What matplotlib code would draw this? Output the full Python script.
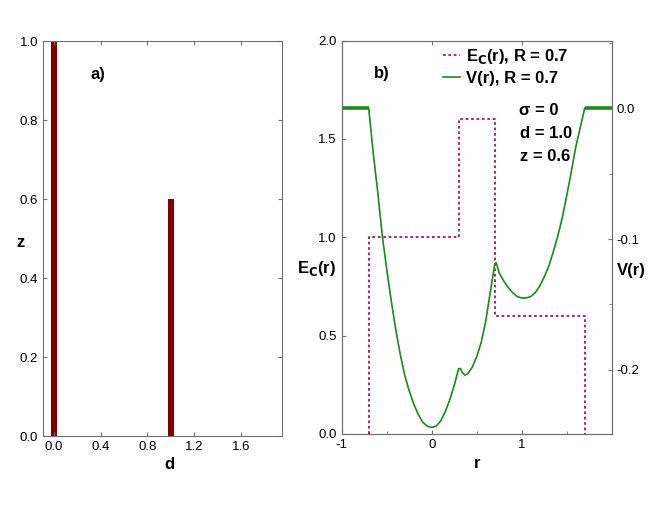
import numpy as np
import matplotlib.pyplot as plt
from matplotlib.ticker import MultipleLocator

plt.rcParams['font.family'] = ['Liberation Sans', 'DejaVu Sans']

# panel a): positions d and heights z of the two bars
bar_d = [0.0, 1.0]
bar_z = [1.0, 0.6]

# panel b): step function E_C(r)
ec_r = [-0.7, -0.7, 0.3, 0.3, 0.7, 0.7, 1.7, 1.7]
ec_val = [0.0, 1.0, 1.0, 1.6, 1.6, 0.6, 0.6, 0.0]

# panel b): potential V(r)
v_r = [-0.7, -0.675, -0.65, -0.625, -0.6, -0.55, -0.5, -0.45, -0.4, -0.35,
       -0.3, -0.25, -0.2, -0.15, -0.1, -0.05, 0.0, 0.05, 0.1, 0.15,
       0.2, 0.25, 0.28, 0.3, 0.32, 0.34, 0.37, 0.4, 0.45, 0.5,
       0.55, 0.6, 0.65, 0.68, 0.7, 0.715, 0.73, 0.75, 0.8, 0.85,
       0.9, 0.95, 1.0, 1.05, 1.1, 1.15, 1.2, 1.25, 1.3, 1.35,
       1.4, 1.45, 1.5, 1.55, 1.6, 1.65, 1.7]
v_val = [0.0, -0.017, -0.034, -0.049, -0.064, -0.097, -0.123, -0.147, -0.169, -0.188,
         -0.204, -0.216, -0.226, -0.234, -0.240, -0.243, -0.244, -0.243, -0.239, -0.232,
         -0.223, -0.212, -0.204, -0.199, -0.199, -0.202, -0.204, -0.203, -0.198, -0.190,
         -0.179, -0.163, -0.141, -0.128, -0.120, -0.118, -0.121, -0.126, -0.132, -0.137,
         -0.141, -0.144, -0.145, -0.145, -0.144, -0.141, -0.136, -0.129, -0.121, -0.110,
         -0.098, -0.084, -0.067, -0.049, -0.030, -0.015, 0.0]
flat_left = [-1.0, -0.7]
flat_right = [1.7, 2.0]

green = '#1a8a1a'
ec_color = '#a0145c'
spine_gray = '#707070'

fig = plt.figure(figsize=(6.54, 5.05), dpi=100)
ax1 = fig.add_axes([0.0657, 0.1366, 0.3654, 0.782])
ax2 = fig.add_axes([0.5225, 0.1406, 0.4128, 0.779])

for ax in (ax1, ax2):
    for s in ax.spines.values():
        s.set_color(spine_gray)
    ax.tick_params(which='both', direction='in', colors=spine_gray,
                   labelcolor='black', labelsize=9.5)
    ax.tick_params(which='major', length=3)
    ax.tick_params(which='minor', length=2)

# a)
ax1.bar(bar_d, bar_z, width=0.055, color='#7f0000')
ax1.set_xlim(-0.094, 1.95)
ax1.set_ylim(0, 1.0)
ax1.set_xticks([0.0, 0.4, 0.8, 1.2, 1.6])
ax1.set_yticks([0.0, 0.2, 0.4, 0.6, 0.8, 1.0])
ax1.xaxis.set_major_formatter(plt.FormatStrFormatter('%.1f'))
ax1.yaxis.set_major_formatter(plt.FormatStrFormatter('%.1f'))
ax1.tick_params(top=True, right=True)
ax1.set_xlabel('d', fontsize=12, fontweight='bold')
ax1.xaxis.set_label_coords(0.53, -0.053)
ax1.set_ylabel('z', fontsize=12, fontweight='bold', rotation=0, va='center')
ax1.yaxis.set_label_coords(-0.096, 0.489)
ax1.text(0.2, 0.905, 'a)', transform=ax1.transAxes, fontsize=12, fontweight='bold')

# b)
ax2.plot(ec_r, ec_val, color=ec_color, lw=1.3, linestyle=(0, (1.5, 1.5)),
         label='E$_\\mathbf{C}$(r), R = 0.7')
ax2.set_xlim(-1, 2)
ax2.set_ylim(0, 2.0)
ax2.set_xticks([-1, 0, 1])
ax2.set_xticklabels(['-1', '0', '1'])
ax2.xaxis.set_minor_locator(MultipleLocator(0.5))
ax2.set_yticks([0.0, 0.5, 1.0, 1.5, 2.0])
ax2.yaxis.set_major_formatter(plt.FormatStrFormatter('%.1f'))
ax2.tick_params(top=True)
ax2.set_xlabel('r', fontsize=12, fontweight='bold', labelpad=4)
ax2.set_ylabel('E$_\\mathbf{C}$(r)', fontsize=12, fontweight='bold', rotation=0,
               va='center')
ax2.yaxis.set_label_coords(-0.095, 0.42)

ax3 = ax2.twinx()
for s in ax3.spines.values():
    s.set_color(spine_gray)
ax3.plot(v_r, v_val, color=green, lw=1.2)
ax3.plot(flat_left, [0, 0], color=green, lw=2.6, solid_capstyle='butt')
ax3.plot(flat_right, [0, 0], color=green, lw=2.6, solid_capstyle='butt')
ax3.set_ylim(-0.249, 0.0517)
ax3.set_yticks([0.0, -0.1, -0.2])
ax3.yaxis.set_major_formatter(plt.FormatStrFormatter('%.1f'))
ax3.yaxis.set_minor_locator(MultipleLocator(0.05))
ax3.tick_params(which='both', direction='in', colors=spine_gray,
                labelcolor='black', labelsize=9.5)
ax3.tick_params(which='major', length=3)
ax3.tick_params(which='minor', length=2)
ax3.set_ylabel('V(r)', fontsize=12, fontweight='bold', rotation=0, va='center')
ax3.yaxis.set_label_coords(1.072, 0.415)

ax2.plot([], [], color=green, lw=1.2, label='V(r), R = 0.7')
ax2.legend(loc='upper left', bbox_to_anchor=(0.32, 1.022), frameon=False,
           prop={'weight': 'bold', 'size': 12}, handlelength=1.0,
           handletextpad=0.4, labelspacing=0.28)

ax2.text(0.12, 0.905, 'b)', transform=ax2.transAxes, fontsize=12, fontweight='bold')
ax2.text(0.655, 0.812, '\u03c3 = 0', transform=ax2.transAxes, fontsize=12,
         fontweight='bold')
ax2.text(0.66, 0.752, 'd = 1.0', transform=ax2.transAxes, fontsize=12, fontweight='bold')
ax2.text(0.66, 0.695, 'z = 0.6', transform=ax2.transAxes, fontsize=12, fontweight='bold')

fig.savefig('out.png', dpi=100)
